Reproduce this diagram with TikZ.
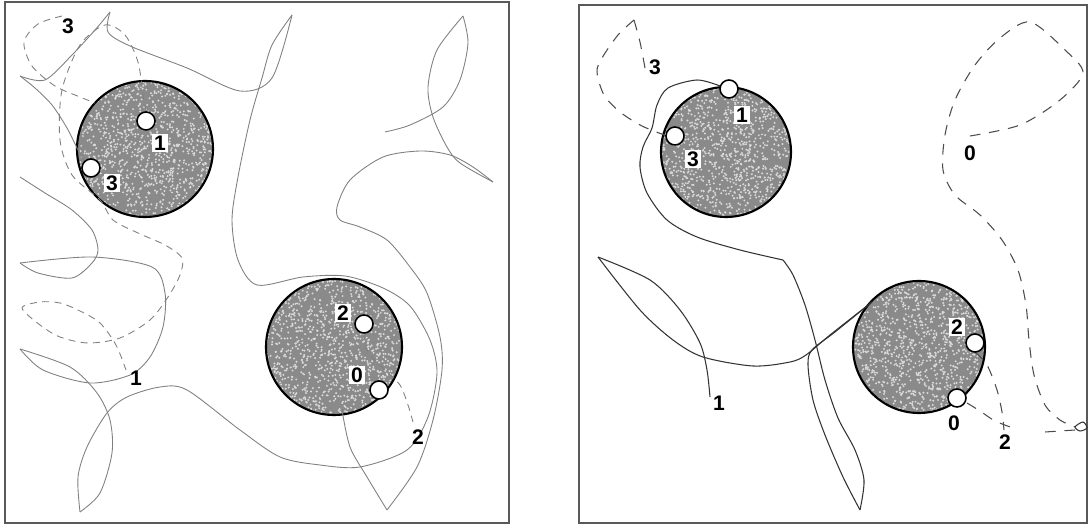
\documentclass[tikz,border=0pt]{standalone}
\usepackage{fontspec}
\setsansfont{Liberation Sans}
\usetikzlibrary{positioning}

\begin{document}
\begin{tikzpicture}[x=0.02cm, y=-0.02cm,
    frame/.style={draw=black!65, line width=0.7pt},
    grain/.style={fill=black!46},
    rim/.style={draw=black, line width=1.2pt},
    trajL/.style={draw=black!50, line width=0.5pt},
    trajLd/.style={trajL, dash pattern=on 4pt off 3pt},
    trajR/.style={draw=black!80, line width=0.6pt},
    trajRd/.style={draw=black!70, line width=0.6pt, dash pattern=on 6pt off 5pt},
    marker/.style={circle, draw, fill=white, line width=0.9pt, minimum size=0.36cm, inner sep=0pt},
    tag/.style={font=\sffamily\bfseries\fontsize{12}{12}\selectfont, inner sep=1pt},
    boxtag/.style={tag, fill=white}]
  \useasboundingbox (0,0) rectangle (1090,526);
  \pgfmathsetseed{7}

  % frames
  \draw[frame] (5,2) rectangle (509,523);
  \draw[frame] (579,5) rectangle (1087,523);

  % grains
  \foreach \cx/\cy/\r in {145/149/68, 334/347/68, 726/152/65, 919/347/66} {
    \fill[grain] (\cx,\cy) circle[radius=\r];
    \begin{scope}
      \clip (\cx,\cy) circle[radius=\r];
      \foreach \k in {1,...,1200}
        \fill[white!85!black] ({\cx+\r*rand},{\cy+\r*rand}) circle[radius=1.1];
    \end{scope}
    \draw[rim] (\cx,\cy) circle[radius=\r];
  }

  % left panel, solid paths
  \draw[trajL] plot[smooth] coordinates {(20,76) (45,80) (72,55) (95,30) (110,12)};
  \draw[trajL] plot[smooth] coordinates {(110,12) (108,32) (130,46) (187,68) (240,91) (272,78) (292,15)};
  \draw[trajL] plot[smooth] coordinates {(292,15) (272,45) (262,78) (250,120) (238,177) (232,220) (238,260)
    (257,285) (303,277) (345,276) (383,288) (410,306) (430,340) (437,373) (428,417) (407,450) (360,467)
    (320,465) (280,457) (240,430) (187,390) (160,387) (127,397) (107,413) (87,447) (78,477) (80,512)};
  \draw[trajL] plot[smooth] coordinates {(80,512) (100,493) (112,453) (110,420) (97,393) (70,367) (20,349)};
  \draw[trajL] plot[smooth] coordinates {(20,349) (43,370) (90,383) (130,375) (150,357) (163,327) (165,293)
    (152,267) (92,257) (20,263)};
  \draw[trajL] plot[smooth] coordinates {(20,263) (38,273) (72,278) (92,263) (98,250) (92,230) (72,210) (45,193) (20,177)};
  \draw[trajL] plot[smooth] coordinates {(20,76) (35,88) (52,105) (67,128) (78,150) (85,162)};
  \draw[trajL] plot[smooth] coordinates {(342,410) (350,447) (367,477) (387,510)};
  \draw[trajL] plot[smooth] coordinates {(387,510) (417,467) (433,420) (442,370) (440,337) (427,293) (410,267)
    (387,240) (360,227) (340,220) (337,207) (350,180) (383,157) (420,151) (450,155) (473,167) (493,182)};
  \draw[trajL] plot[smooth] coordinates {(493,182) (460,163) (447,147) (433,117) (428,87) (437,50) (463,16)};
  \draw[trajL] plot[smooth] coordinates {(463,16) (468,43) (460,80) (443,107) (410,125) (385,132)};

  % left panel, dashed paths
  \draw[trajLd] plot[smooth] coordinates {(146,112) (143,95) (138,62) (125,35) (105,25) (80,45) (62,90)
    (60,140) (72,175) (100,200) (113,220) (138,233) (165,245) (182,258) (180,275) (168,297) (150,320)
    (120,338) (88,343) (60,337) (40,325) (22,308) (40,302) (60,303) (80,311) (100,323) (116,345) (126,370)};
  \draw[trajLd] plot[smooth] coordinates {(62,16) (38,24) (24,42) (32,66) (55,86) (80,97) (95,103)};
  \draw[trajLd] plot[smooth] coordinates {(364,333) (368,352) (385,370) (400,385) (408,405) (413,422)};

  % right panel, solid paths
  \draw[trajR] plot[smooth] coordinates {(710,397) (707,370) (700,343) (680,310) (650,280) (598,257)};
  \draw[trajR] plot[smooth] coordinates {(598,257) (640,310) (673,340) (703,357) (753,366) (790,362)
    (806,355) (830,335) (872,302)};
  \draw[trajR] plot[smooth] coordinates {(872,302) (835,332) (812,350) (808,365) (813,400) (825,435)
    (843,477) (860,510)};
  \draw[trajR] plot[smooth] coordinates {(860,510) (864,480) (855,450) (838,418) (825,380) (815,340)
    (805,305) (793,275) (783,260)};
  \draw[trajR] plot[smooth] coordinates {(783,260) (740,250) (697,237) (667,220) (647,193) (640,167)
    (643,147) (652,128) (657,105) (668,88) (697,80) (720,86)};

  % right panel, dashed paths
  \draw[trajRd] plot[smooth] coordinates {(645,68) (640,42) (634,20)};
  \draw[trajRd] plot[smooth] coordinates {(634,20) (618,35) (602,58) (597,72) (604,95) (620,112) (642,126) (667,136)};
  \draw[trajRd] plot[smooth] coordinates {(970,136) (1020,125) (1060,100) (1083,73) (1065,50) (1030,22)
    (1000,38) (975,65) (955,100) (945,135) (943,170) (955,195) (980,215) (1002,240) (1018,270) (1026,305)
    (1029,340) (1034,375) (1045,405) (1060,420) (1075,427)};
  \draw[trajR] plot[smooth cycle] coordinates {(1075,427) (1083,422) (1087,428) (1080,431)};
  \draw[trajRd] (1075,430) -- (1045,432);
  \draw[trajRd] plot[smooth] coordinates {(975,352) (987,365) (997,390) (1002,412) (1004,430)};
  \draw[trajRd] plot[smooth] coordinates {(967,403) (980,411) (995,421) (1013,428)};

  % markers and labels, left
  \node[marker] (mL1) at (146,121) {};
  \node[marker] (mL3) at (91,168) {};
  \node[marker] (mL2) at (364,324) {};
  \node[marker] (mL0) at (379,390) {};
  \node[boxtag] (tL1) at (160,143) {1};
  \node[boxtag] (tL3) at (112,183) {3};
  \node[boxtag] (tL2) at (343,313) {2};
  \node[boxtag] (tL0) at (357,375) {0};
  \node[tag] (sL3) at (68,26) {3};
  \node[tag] (sL1) at (136,378) {1};
  \node[tag] (sL2) at (418,437) {2};

  % markers and labels, right
  \node[marker] (mR1) at (729,89) {};
  \node[marker] (mR3) at (675,136) {};
  \node[marker] (mR2) at (975,343) {};
  \node[marker] (mR0) at (957,398) {};
  \node[boxtag] (tR1) at (742,115) {1};
  \node[boxtag] (tR3) at (693,159) {3};
  \node[boxtag] (tR2) at (957,327) {2};
  \node[tag] (tR0) at (954,423) {0};
  \node[tag] (sR3) at (655,67) {3};
  \node[tag] (sR1) at (719,403) {1};
  \node[tag] (sR2) at (1005,442) {2};
  \node[tag] (sR0) at (970,153) {0};
\end{tikzpicture}
\end{document}
